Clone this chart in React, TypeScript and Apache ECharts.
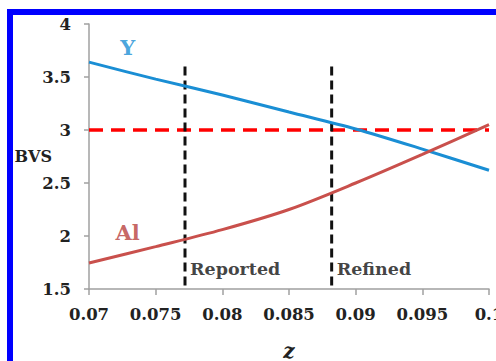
import React, { useEffect, useRef } from "react";
import * as echarts from "echarts";

const xValues = [0.07, 0.075, 0.08, 0.085, 0.09, 0.095, 0.1];
const yValues = [3.64, 3.48, 3.33, 3.17, 3.01, 2.82, 2.62];
const alValues = [1.745, 1.9, 2.06, 2.25, 2.5, 2.77, 3.05];
const thresholdBVS = 3;
const reportedZ = 0.0772;
const refinedZ = 0.0882;
const markerTop = 3.6;
const seriesLabels = [
  { text: "Y", x: 0.0729, y: 3.78 },
  { text: "Al", x: 0.0729, y: 2.03 },
];
const regionLabels = [
  { text: "Reported", x: reportedZ, y: 1.69 },
  { text: "Refined", x: refinedZ, y: 1.69 },
];

const FONT = "DejaVu Serif";
const BLUE = "#1a8ed4";
const RED = "#c9504c";
const AL_TEXT = "#b8403c";

export default function App() {
  const ref = useRef<HTMLDivElement>(null);
  useEffect(() => {
    const chart = echarts.init(ref.current!, null, { renderer: "svg" });
    chart.setOption({
      animation: false,
      grid: { left: 89, right: 7, top: 24, bottom: 72, outerBoundsMode: "none", containLabel: false },
      graphic: [
        { type: "rect", shape: { x: 7, y: 9, width: 500, height: 6 }, style: { fill: "#0000ff" }, z: 100 },
        { type: "rect", shape: { x: 7, y: 9, width: 6, height: 360 }, style: { fill: "#0000ff" }, z: 100 },
      ],
      xAxis: {
        type: "value",
        min: 0.07,
        max: 0.1,
        interval: 0.005,
        name: "z",
        nameLocation: "middle",
        nameGap: 54,
        nameMoveOverlap: false,
        nameTextStyle: {
          fontFamily: FONT,
          fontWeight: 900,
          fontStyle: "italic",
          fontSize: 20,
          lineHeight: 16,
          color: "#222",
        },
        splitLine: { show: false },
        axisLine: { lineStyle: { color: "#a0a0a0", width: 1.5 } },
        axisTick: { show: true, length: 6, lineStyle: { color: "#a0a0a0", width: 1.5 } },
        axisLabel: {
          margin: 17,
          fontFamily: FONT,
          fontWeight: 900,
          fontSize: 16.5,
          color: "#222",
          hideOverlap: false,
          formatter: (v: number) => String(+v.toFixed(3)),
        },
      },
      yAxis: {
        type: "value",
        min: 1.5,
        max: 4,
        interval: 0.5,
        name: "BVS",
        nameLocation: "middle",
        nameRotate: 0,
        nameGap: 37,
        nameMoveOverlap: false,
        nameTextStyle: { fontFamily: FONT, fontWeight: 900, fontSize: 16, color: "#222" },
        splitLine: { show: false },
        axisLine: { show: true, lineStyle: { color: "#a0a0a0", width: 1.5 } },
        axisTick: { show: true, length: 5, lineStyle: { color: "#a0a0a0", width: 1.5 } },
        axisLabel: { margin: 18, fontFamily: FONT, fontWeight: 900, fontSize: 16.5, color: "#222" },
      },
      series: [
        {
          type: "line",
          data: [
            [xValues[0], thresholdBVS],
            [xValues[xValues.length - 1], thresholdBVS],
          ],
          symbol: "none",
          lineStyle: { color: "#ff0000", width: 3.5, type: [14, 8] },
          z: 1,
        },
        {
          type: "line",
          data: [
            [reportedZ, markerTop],
            [reportedZ, 1.5],
          ],
          symbol: "none",
          lineStyle: { color: "#111", width: 3, type: [9, 5] },
          z: 2,
        },
        {
          type: "line",
          data: [
            [refinedZ, markerTop],
            [refinedZ, 1.5],
          ],
          symbol: "none",
          lineStyle: { color: "#111", width: 3, type: [9, 5] },
          z: 2,
        },
        {
          type: "line",
          data: xValues.map((x, i) => [x, yValues[i]]),
          symbol: "none",
          smooth: 0.3,
          lineStyle: { color: BLUE, width: 3 },
          z: 3,
        },
        {
          type: "line",
          data: xValues.map((x, i) => [x, alValues[i]]),
          symbol: "none",
          smooth: 0.3,
          lineStyle: { color: RED, width: 3 },
          z: 3,
        },
        {
          type: "scatter",
          symbolSize: 0,
          data: seriesLabels.map((l) => ({
            value: [l.x, l.y],
            name: l.text,
            label: { color: l.text === "Y" ? BLUE : AL_TEXT },
          })),
          label: {
            show: true,
            position: "inside",
            formatter: (p: any) => p.name,
            fontFamily: FONT,
            fontWeight: 900,
            fontSize: 21,
          },
          z: 4,
        },
        {
          type: "scatter",
          symbolSize: 0,
          data: regionLabels.map((l) => ({ value: [l.x, l.y], name: l.text })),
          label: {
            show: true,
            position: "right",
            distance: 5,
            formatter: (p: any) => p.name,
            fontFamily: FONT,
            fontWeight: 900,
            fontSize: 17.5,
            color: "#111",
          },
          z: 4,
        },
      ],
    });
    return () => chart.dispose();
  }, []);
  return <div ref={ref} style={{ position: "absolute", left: 0, top: 0, width: 496, height: 361, background: "#fff" }} />;
}
